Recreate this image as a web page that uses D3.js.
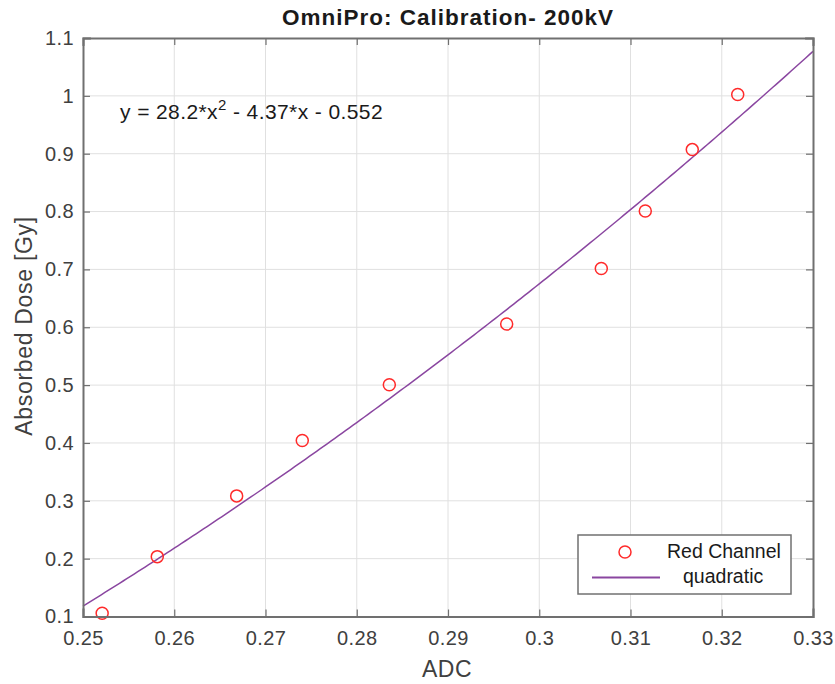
<!DOCTYPE html>
<html>
<head>
<meta charset="utf-8">
<script src="https://cdn.jsdelivr.net/npm/d3@7"></script>
<style>
  html, body { margin: 0; padding: 0; background: #fff; }
  svg { display: block; font-family: "Liberation Sans", Arial, Helvetica, sans-serif; }
</style>
</head>
<body>
<svg id="chart" width="835" height="684"></svg>
<script>
// Calibration measurements: film ADC reading vs delivered dose
const adc  = [0.2521, 0.25814, 0.26684, 0.27403, 0.28357, 0.29643, 0.3068, 0.31162, 0.31677, 0.32175];
const dose = [0.1055, 0.2035, 0.3085, 0.4042, 0.5005, 0.6055, 0.7017, 0.8010, 0.9071, 1.0022];

// Quadratic fit coefficients (a, b, c) for y = a*x^2 + b*x + c
const fitCoef = [28.2, -4.37, -0.552];

const xTicks = [0.25, 0.26, 0.27, 0.28, 0.29, 0.30, 0.31, 0.32, 0.33];
const yTicks = [0.1, 0.2, 0.3, 0.4, 0.5, 0.6, 0.7, 0.8, 0.9, 1.0, 1.1];
const xTickLabels = ["0.25", "0.26", "0.27", "0.28", "0.29", "0.3", "0.31", "0.32", "0.33"];
const yTickLabels = ["0.1", "0.2", "0.3", "0.4", "0.5", "0.6", "0.7", "0.8", "0.9", "1", "1.1"];

const svg = d3.select("#chart");
const plotL = 83, plotR = 813, plotT = 38, plotB = 616.5;

const x = d3.scaleLinear().domain([0.25, 0.33]).range([plotL, plotR]);
const y = d3.scaleLinear().domain([0.1, 1.1]).range([plotB, plotT]);

const axisColor = "#707070";
const textColor = "#404040";
const lineColor = "#8a46a0";
const markerColor = "#ff2a2a";

// Grid
const grid = svg.append("g");
grid.selectAll("line.gx").data(xTicks.slice(1, -1)).join("line")
  .attr("x1", d => x(d)).attr("x2", d => x(d))
  .attr("y1", plotT).attr("y2", plotB)
  .attr("stroke", "#e0e0e0").attr("stroke-width", 1);
grid.selectAll("line.gy").data(yTicks.slice(1, -1)).join("line")
  .attr("x1", plotL).attr("x2", plotR)
  .attr("y1", d => y(d)).attr("y2", d => y(d))
  .attr("stroke", "#e0e0e0").attr("stroke-width", 1);

// Axes with inward ticks on all four sides
const tickLen = 7;
const xAxisB = d3.axisBottom(x).tickValues(xTicks).tickSize(-tickLen).tickPadding(14)
  .tickFormat((d, i) => xTickLabels[i]);
const xAxisT = d3.axisTop(x).tickValues(xTicks).tickSize(-tickLen).tickFormat("");
const yAxisL = d3.axisLeft(y).tickValues(yTicks).tickSize(-tickLen).tickPadding(9)
  .tickFormat((d, i) => yTickLabels[i]);
const yAxisR = d3.axisRight(y).tickValues(yTicks).tickSize(-tickLen).tickFormat("");

function styleAxis(g) {
  g.selectAll(".domain").attr("stroke", axisColor).attr("stroke-width", 2);
  g.selectAll(".tick line").attr("stroke", axisColor).attr("stroke-width", 1.2);
  g.selectAll(".tick text").attr("fill", textColor).attr("font-size", 20)
    .attr("letter-spacing", 0.4)
    .attr("font-family", "Liberation Sans, Arial, sans-serif");
}

// Fit curve
const curveX = d3.range(0, 201).map(i => 0.25 + i * (0.08 / 200));
const fit = v => fitCoef[0] * v * v + fitCoef[1] * v + fitCoef[2];
svg.append("path")
  .datum(curveX)
  .attr("fill", "none")
  .attr("stroke", lineColor)
  .attr("stroke-width", 1.5)
  .attr("d", d3.line().x(d => x(d)).y(d => y(fit(d))));

// Data markers
svg.append("g").selectAll("circle").data(adc).join("circle")
  .attr("cx", d => x(d))
  .attr("cy", (d, i) => y(dose[i]))
  .attr("r", 6)
  .attr("fill", "none")
  .attr("stroke", markerColor)
  .attr("stroke-width", 1.5);

svg.append("g").attr("transform", `translate(0,${plotB})`).call(xAxisB).call(styleAxis);
svg.append("g").attr("transform", `translate(0,${plotT})`).call(xAxisT).call(styleAxis);
svg.append("g").attr("transform", `translate(${plotL},0)`).call(yAxisL).call(styleAxis);
svg.append("g").attr("transform", `translate(${plotR},0)`).call(yAxisR).call(styleAxis);
svg.selectAll(".domain").attr("stroke-linecap", "square");

// Title and axis labels
svg.append("text")
  .attr("x", 448).attr("y", 25)
  .attr("text-anchor", "middle")
  .attr("font-size", 22.5).attr("font-weight", "bold")
  .attr("letter-spacing", 1)
  .attr("fill", "#1a1a1a")
  .text("OmniPro: Calibration- 200kV");

svg.append("text")
  .attr("x", 447).attr("y", 677)
  .attr("text-anchor", "middle")
  .attr("font-size", 23)
  .attr("letter-spacing", 0.5)
  .attr("fill", textColor)
  .text("ADC");

svg.append("text")
  .attr("transform", "translate(32,326) rotate(-90)")
  .attr("text-anchor", "middle")
  .attr("font-size", 23)
  .attr("letter-spacing", 0.7)
  .attr("fill", textColor)
  .text("Absorbed Dose [Gy]");

// Fit equation
const eq = svg.append("text")
  .attr("x", 120).attr("y", 119)
  .attr("font-size", 21)
  .attr("letter-spacing", 0.4)
  .attr("fill", "#1a1a1a");
eq.append("tspan").text("y = 28.2*x");
eq.append("tspan").attr("dy", -9).attr("font-size", 15).text("2");
eq.append("tspan").attr("dy", 9).text(" - 4.37*x - 0.552");

// Legend
const lg = svg.append("g");
lg.append("rect")
  .attr("x", 578).attr("y", 535).attr("width", 213).attr("height", 59)
  .attr("fill", "#fff").attr("stroke", axisColor).attr("stroke-width", 1.5);
lg.append("circle")
  .attr("cx", 625).attr("cy", 552).attr("r", 6)
  .attr("fill", "none").attr("stroke", markerColor).attr("stroke-width", 1.5);
lg.append("line")
  .attr("x1", 592).attr("x2", 660).attr("y1", 577.5).attr("y2", 577.5)
  .attr("stroke", lineColor).attr("stroke-width", 1.8);
lg.append("text")
  .attr("x", 667).attr("y", 558)
  .attr("font-size", 19.5).attr("fill", "#1a1a1a")
  .text("Red Channel");
lg.append("text")
  .attr("x", 683).attr("y", 583)
  .attr("font-size", 19.5).attr("fill", "#1a1a1a")
  .text("quadratic");
</script>
</body>
</html>
